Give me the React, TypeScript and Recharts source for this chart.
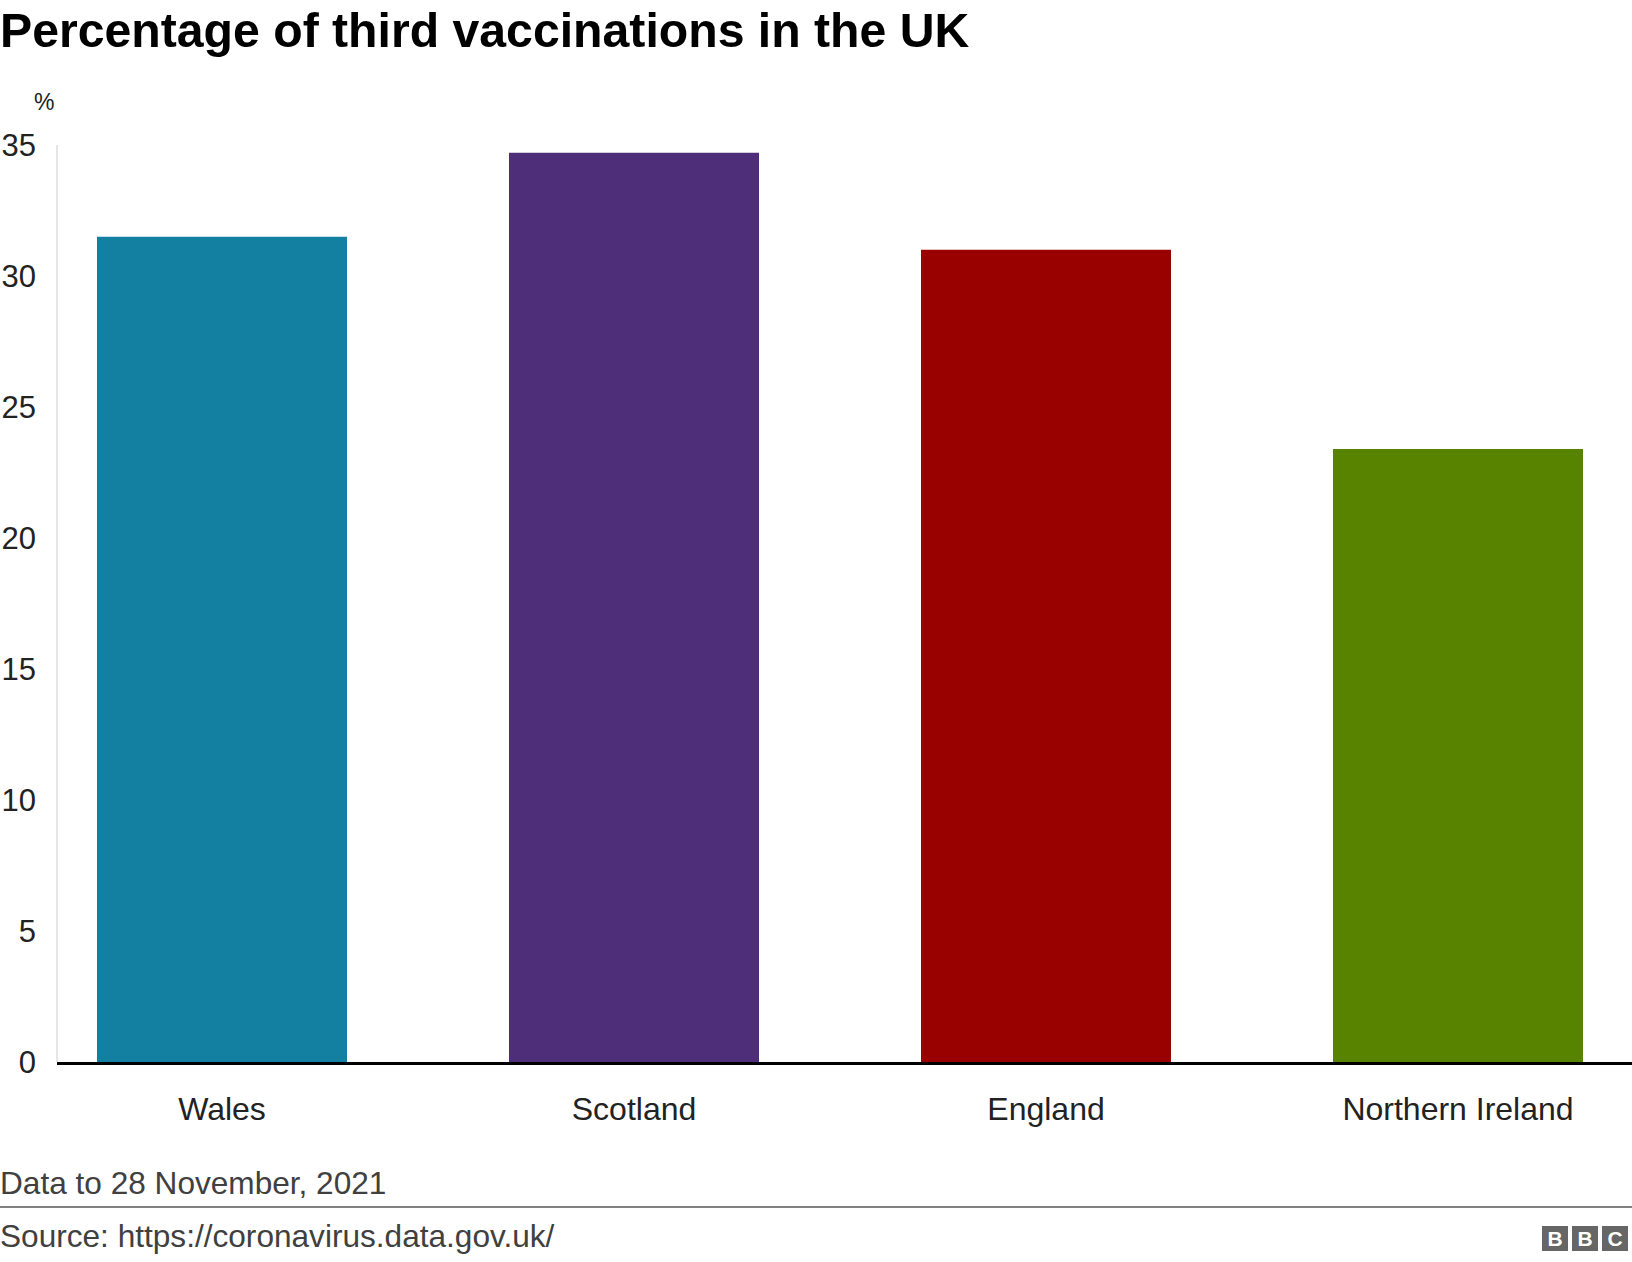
import { BarChart, Bar, XAxis, YAxis, Cell } from 'recharts'

const countries = ['Wales', 'Scotland', 'England', 'Northern Ireland']
const thirdDosePct = [31.5, 34.7, 31.0, 23.4]
const yTicks = [0, 5, 10, 15, 20, 25, 30, 35]

const barColors = ['#1380a1', '#4e2d79', '#990000', '#588300']
const FONT = '"Liberation Sans", Arial, Helvetica, sans-serif'

const data = countries.map((name, i) => ({ name, value: thirdDosePct[i] }))

function BbcLogo() {
  return (
    <div style={{ position: 'absolute', left: 1542, top: 1226, display: 'flex', gap: 4 }}>
      {['B', 'B', 'C'].map((l, i) => (
        <div
          key={i}
          style={{
            width: 26,
            height: 25,
            background: '#666666',
            color: '#fff',
            fontFamily: FONT,
            fontWeight: 'bold',
            fontSize: 21,
            lineHeight: '25px',
            textAlign: 'center',
          }}
        >
          {l}
        </div>
      ))}
    </div>
  )
}

export default function App() {
  return (
    <div
      style={{
        position: 'absolute',
        left: 0,
        top: 0,
        width: 1632,
        height: 1262,
        background: '#fff',
        overflow: 'hidden',
        fontFamily: FONT,
      }}
    >
      <div
        style={{
          position: 'absolute',
          left: 0,
          top: 6,
          fontSize: 48.2,
          lineHeight: '48px',
          fontWeight: 'bold',
          color: '#000',
          whiteSpace: 'nowrap',
        }}
      >
        Percentage of third vaccinations in the UK
      </div>

      <div style={{ position: 'absolute', left: 34, top: 91, fontSize: 23, lineHeight: '23px', color: '#222' }}>%</div>

      <div style={{ position: 'absolute', left: 0, top: 0 }}>
        <BarChart width={1632} height={1140} data={data} margin={{ top: 145, right: 0, left: 0, bottom: 18 }}>
          <XAxis
            dataKey="name"
            height={60}
            padding={{ left: -41, right: -32 }}
            tickSize={0}
            tickMargin={35}
            axisLine={{ stroke: '#000', strokeWidth: 3, transform: 'translate(0 1.5)' }}
            tick={{ fill: '#222', fontSize: 32, fontFamily: FONT }}
            interval={0}
          />
          <YAxis
            width={57}
            domain={[0, 35]}
            ticks={yTicks}
            tickSize={0}
            tickMargin={21}
            axisLine={{ stroke: '#cccccc', strokeWidth: 1 }}
            tick={{ fill: '#222', fontSize: 31, fontFamily: FONT }}
          />
          <Bar dataKey="value" barSize={250} isAnimationActive={false}>
            {data.map((d, i) => (
              <Cell key={d.name} fill={barColors[i]} />
            ))}
          </Bar>
        </BarChart>
      </div>

      <div style={{ position: 'absolute', left: 0, top: 1168, fontSize: 31.6, lineHeight: '31px', color: '#404040', whiteSpace: 'nowrap' }}>
        Data to 28 November, 2021
      </div>
      <div style={{ position: 'absolute', left: 0, top: 1206, width: 1632, height: 2, background: '#808080' }} />
      <div style={{ position: 'absolute', left: 0, top: 1221, fontSize: 31.6, lineHeight: '31px', color: '#404040', whiteSpace: 'nowrap' }}>
        Source: https://coronavirus.data.gov.uk/
      </div>
      <BbcLogo />
    </div>
  )
}
